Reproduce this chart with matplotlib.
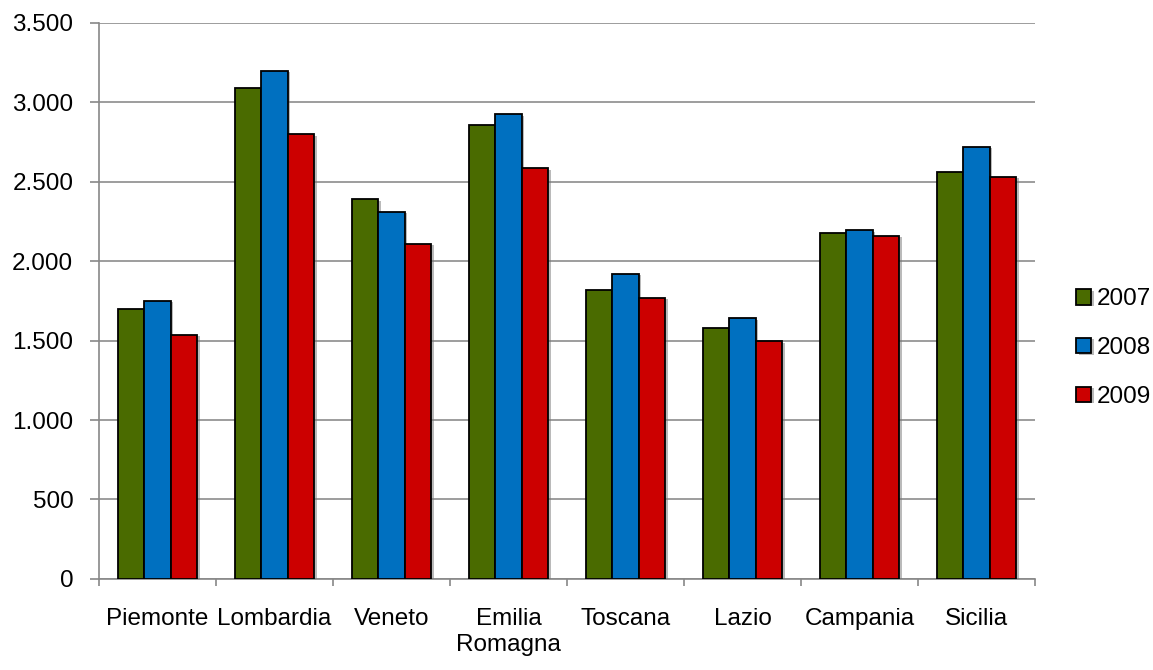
import matplotlib.pyplot as plt
import matplotlib.patheffects as pe
import numpy as np

regions = ["Piemonte", "Lombardia", "Veneto", "Emilia\nRomagna", "Toscana", "Lazio", "Campania", "Sicilia"]
years = ["2007", "2008", "2009"]
v2007 = [1700, 3090, 2390, 2860, 1820, 1580, 2180, 2560]
v2008 = [1750, 3200, 2310, 2925, 1920, 1640, 2195, 2720]
v2009 = [1535, 2800, 2110, 2585, 1770, 1495, 2160, 2530]
colors = ["#4a6b00", "#0070c0", "#cc0000"]

plt.rcParams['font.family'] = ['Liberation Sans', 'DejaVu Sans']

fig = plt.figure(figsize=(11.53, 6.70), dpi=100)
ax = fig.add_axes([0.0859, 0.136, 0.8118, 0.8297])

x = np.arange(len(regions))
w = 0.225
shadow = [pe.SimplePatchShadow(offset=(2, -1), shadow_rgbFace='#777777', alpha=0.5), pe.Normal()]
for i, (vals, col, lab) in enumerate(zip([v2007, v2008, v2009], colors, years)):
    bars = ax.bar(x + (i - 1) * w, vals, w, color=col, edgecolor='black', linewidth=1.3, label=lab, zorder=3)
    for b in bars:
        b.set_path_effects(shadow)

ax.set_xlim(-0.5, len(regions) - 0.5)
ax.set_ylim(0, 3500)
ax.set_yticks(range(0, 3501, 500))
ax.set_yticklabels([f"{v:,}".replace(",", ".") for v in range(0, 3501, 500)])
ax.set_xticks(x)
ax.set_xticklabels(regions, linespacing=1.25)
ax.set_xticks(np.arange(-0.5, len(regions), 1), minor=True)
ax.tick_params(axis='x', which='major', length=0, pad=21, labelsize=17.5)
ax.tick_params(axis='x', which='minor', length=5, color='#888888', width=1.2)
ax.tick_params(axis='y', length=6.5, color='#888888', width=1.2, labelsize=17.5, pad=12)
ax.grid(axis='y', color='#8c8c8c', linewidth=1.2, zorder=0)
for s in ['top', 'right']:
    ax.spines[s].set_visible(False)
for s in ['left', 'bottom']:
    ax.spines[s].set_color('#888888')
    ax.spines[s].set_linewidth(1.2)

ax.legend(loc='center left', bbox_to_anchor=(1.031, 0.415), frameon=False, fontsize=17.5,
          handlelength=0.6, handleheight=0.6, handletextpad=0.25, labelspacing=1.1, borderpad=0)

plt.savefig('out.png', dpi=100)
